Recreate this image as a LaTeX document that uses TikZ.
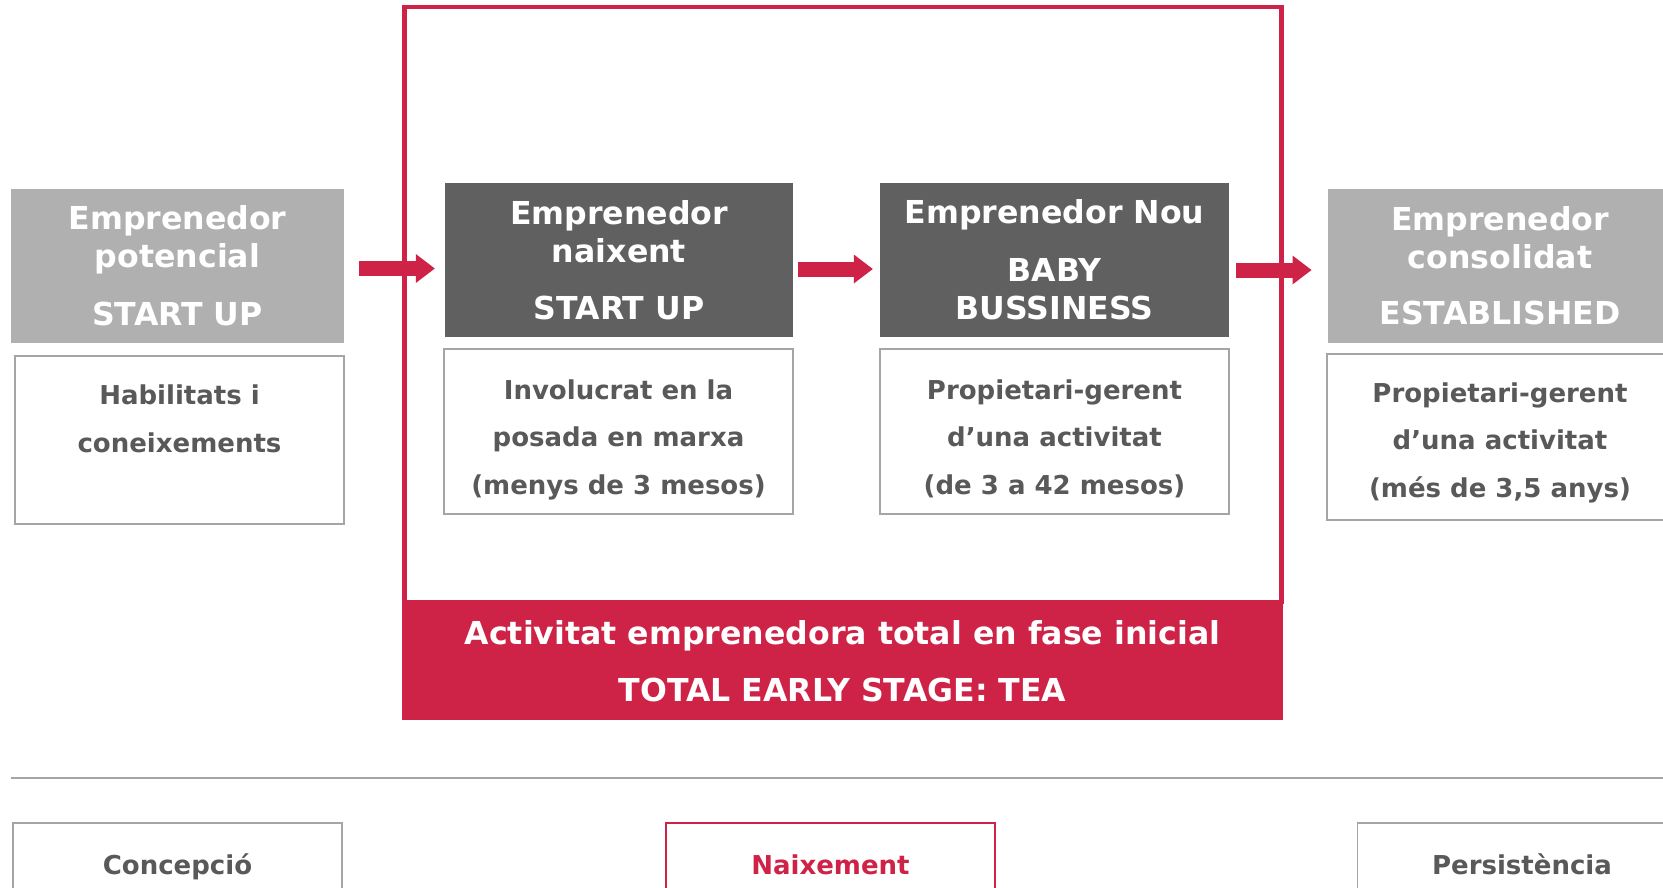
\documentclass[tikz,border=0pt]{standalone}
\usepackage{fontspec}
\setmainfont{DejaVu Sans}
\usetikzlibrary{arrows.meta}
\definecolor{gemred}{RGB}{206,35,71}
\definecolor{lightgray}{RGB}{176,176,176}
\definecolor{darkgray}{RGB}{96,96,96}
\definecolor{edgegray}{RGB}{165,165,165}
\definecolor{textgray}{RGB}{89,89,89}
\tikzset{
	headbox/.style={fill=#1, text=white, inner sep=0pt, minimum height=154pt, align=center, font=\bfseries\fontsize{31.6}{38}\selectfont},
	infobox/.style={draw=edgegray, line width=1.3pt, fill=white, inner sep=0pt},
	infotext/.style={text=textgray, anchor=base, align=center, inner sep=0pt, font=\bfseries\fontsize{26}{47.5}\selectfont},
	phasebox/.style={draw=#1, line width=1.5pt, fill=white, minimum width=329pt, minimum height=88pt, text height=20pt, text depth=6pt, font=\bfseries\fontsize{26}{30}\selectfont},
	flow/.style={gemred, line width=15pt, -{Triangle[length=19pt, width=29pt, line width=0pt]}}
}

\begin{document}
\begin{tikzpicture}[x=1pt, y=-1pt]
				\useasboundingbox (0,0) rectangle (1663,888);
				
				\node[headbox=lightgray, minimum width=333pt] (pot) at (177.5,266) {Emprenedor\\potencial\\[20pt]START UP};
				\node[headbox=darkgray, minimum width=348pt] (nai) at (619,260) {Emprenedor\\naixent\\[19pt]START UP};
				\node[headbox=darkgray, minimum width=349pt] (nou) at (1054.5,260) {Emprenedor Nou\\[20pt]BABY\\BUSSINESS};
				\node[headbox=lightgray, minimum width=344pt] (con) at (1500,266) {Emprenedor\\consolidat\\[18pt]ESTABLISHED};
				
				\node[infobox, minimum width=329pt, minimum height=168pt] (potinfo) at (179.5,440) {};
				\node[infobox, minimum width=349pt, minimum height=165pt] (naiinfo) at (618.5,431.5) {};
				\node[infobox, minimum width=349pt, minimum height=165pt] (nouinfo) at (1054.5,431.5) {};
				\node[infobox, minimum width=346pt, minimum height=166pt] (coninfo) at (1500,437) {};
				
				% base of a text is its last line
				\node[infotext] (pottext) at ([yshift=-97pt]potinfo.north) {Habilitats i\\coneixements};
				\node[infotext] (naitext) at ([yshift=-146pt]naiinfo.north) {Involucrat en la\\posada en marxa\\(menys de 3 mesos)};
				\node[infotext] (noutext) at ([yshift=-146pt]nouinfo.north) {Propietari-gerent\\d’una activitat\\(de 3 a 42 mesos)};
				\node[infotext] (context) at ([yshift=-144pt]coninfo.north) {Propietari-gerent\\d’una activitat\\(més de 3,5 anys)};
				
				\draw[flow] ([xshift=15pt, yshift=-2.5pt]pot.east) -- ([xshift=-10pt, yshift=-8.5pt]nai.west);
				\draw[flow] ([xshift=5pt, yshift=-9pt]nai.east) -- ([xshift=-7pt, yshift=-9pt]nou.west);
				\draw[flow] ([xshift=7pt, yshift=-10pt]nou.east) -- ([xshift=-16.3pt, yshift=-4pt]con.west);
				
				\draw[gemred, line width=4.5pt] (404.5,7) rectangle (1281.3,602);
				\node[fill=gemred, text=white, inner sep=0pt, minimum width=881pt, minimum height=118pt, align=center, font=\bfseries\fontsize{31.6}{38}\selectfont] (tea) at (842.5,661) {Activitat emprenedora total en fase inicial\\[19pt]TOTAL EARLY STAGE: TEA};
				
				\draw[edgegray, line width=2pt] (11,778) -- (1663,778);
				
				\node[phasebox=edgegray, text=textgray] (concep) at (177.5,867) {Concepció};
				\node[phasebox=gemred, text=gemred] (naix) at (830.5,867) {Naixement};
				\node[phasebox=edgegray, text=textgray] (pers) at (1522,867) {Persistència};
			\end{tikzpicture}
\end{document}
